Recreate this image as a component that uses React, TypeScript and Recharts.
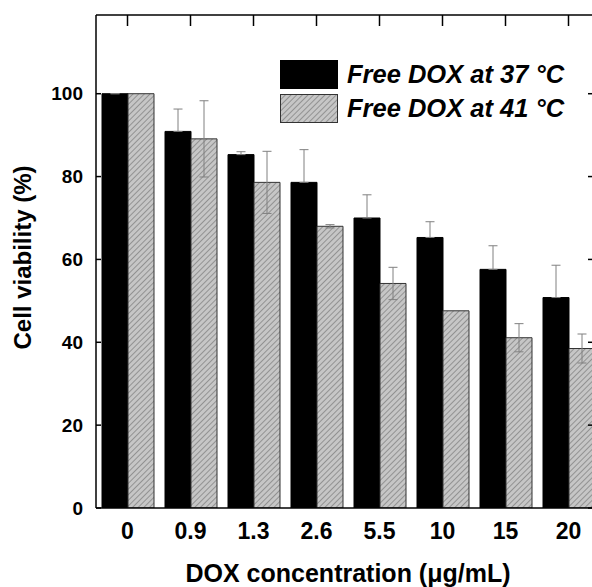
import React from 'react';
import { BarChart, Bar, XAxis, YAxis, ErrorBar, Legend } from 'recharts';

const concentrations = ['0', '0.9', '1.3', '2.6', '5.5', '10', '15', '20'];
const viability37 = [100, 90.9, 85.3, 78.6, 70.0, 65.3, 57.6, 50.8];
const error37 = [0, 5.4, 0.7, 7.9, 5.6, 3.8, 5.7, 7.8];
const viability41 = [100, 89.1, 78.6, 68.0, 54.2, 47.6, 41.1, 38.5];
const error41 = [0, 9.2, 7.5, 0.4, 3.9, 0, 3.4, 3.5];
const yTicks = [0, 20, 40, 60, 80, 100];
const seriesNames = ['Free DOX at 37 °C', 'Free DOX at 41 °C'];

const data = concentrations.map((c, i) => ({
  conc: c,
  v37: viability37[i],
  e37: [0, error37[i]],
  v41: viability41[i],
  e41: error41[i],
}));

const FONT = "'Liberation Sans', Arial, Helvetica, sans-serif";

const HatchDef = ({ id }: { id: string }) => (
  <pattern id={id} patternUnits="userSpaceOnUse" width="4" height="4" patternTransform="rotate(45)">
    <rect x="0" y="0" width="4" height="4" fill="#c6c6c6" />
    <line x1="0" y1="0" x2="0" y2="4" stroke="#7c7c7c" strokeWidth="1.4" />
  </pattern>
);

const NoLabel = () => <g />;

const LegendBox = () => (
  <svg width={300} height={64} style={{ display: 'block', overflow: 'visible' }}>
    <defs>
      <HatchDef id="hatchLegend" />
    </defs>
    <rect x={0.5} y={0.5} width={57} height={28} fill="#000" stroke="#000" />
    <rect x={0.5} y={34.5} width={57} height={28} fill="url(#hatchLegend)" stroke="#333" />
    <text x={67} y={23} fontFamily={FONT} fontSize={25.5} fontWeight="bold" fontStyle="italic" fill="#000">
      {seriesNames[0]}
    </text>
    <text x={67} y={57} fontFamily={FONT} fontSize={25.5} fontWeight="bold" fontStyle="italic" fill="#000">
      {seriesNames[1]}
    </text>
  </svg>
);

const YTitle = (props: any) => {
  const vb = props.viewBox || { x: 0, y: 0, width: 0, height: 0 };
  const cx = vb.x + 31;
  const cy = vb.y + vb.height / 2 - 4;
  return (
    <text
      transform={`translate(${cx}, ${cy}) rotate(-90)`}
      textAnchor="middle"
      fontFamily={FONT}
      fontSize={24}
      fontWeight="bold"
      fill="#000"
    >
      Cell viability (%)
    </text>
  );
};

export default function App() {
  const axisStroke = { stroke: '#000', strokeWidth: 1.5 };
  return (
    <div
      style={{
        position: 'absolute',
        left: 0,
        top: 0,
        width: 592,
        height: 587,
        overflow: 'hidden',
        background: '#fff',
      }}
    >
      <BarChart
        width={602}
        height={587}
        data={data}
        margin={{ top: 14, right: 1, bottom: 0, left: 0 }}
        barGap={0}
      >
        <defs>
          <HatchDef id="hatchBar" />
        </defs>
        <XAxis
          dataKey="conc"
          height={79}
          interval={0}
          axisLine={axisStroke}
          tickLine={false}
          tickSize={0}
          tickMargin={15}
          tick={{ fontSize: 23, fontWeight: 'bold', fill: '#000', fontFamily: FONT }}
          label={{
            value: 'DOX concentration (μg/mL)',
            position: 'insideBottom',
            offset: 5,
            style: { fontSize: 25, fontWeight: 'bold', fill: '#000', fontFamily: FONT },
          }}
        />
        <XAxis
          xAxisId="top"
          orientation="top"
          dataKey="conc"
          height={1}
          interval={0}
          tick={NoLabel}
          tickSize={-11}
          axisLine={axisStroke}
          tickLine={axisStroke}
        />
        <YAxis
          width={96}
          domain={[0, 119]}
          ticks={yTicks}
          interval={0}
          allowDataOverflow
          tickSize={-5}
          tickMargin={18}
          axisLine={axisStroke}
          tickLine={axisStroke}
          tick={{ fontSize: 19, fontWeight: 'bold', fill: '#000', fontFamily: FONT }}
          label={{ content: YTitle }}
        />
        <YAxis
          yAxisId="right"
          orientation="right"
          width={1}
          domain={[0, 119]}
          ticks={yTicks}
          interval={0}
          allowDataOverflow
          tick={NoLabel}
          tickSize={-12}
          axisLine={axisStroke}
          tickLine={axisStroke}
        />
        <Legend
          layout="horizontal"
          verticalAlign="middle"
          align="center"
          wrapperStyle={{ position: 'absolute', top: 60, left: 280, width: 300, height: 64 }}
          content={() => <LegendBox />}
        />
        <Bar
          dataKey="v37"
          name={seriesNames[0]}
          fill="#000"
          stroke="#000"
          strokeWidth={1}
          barSize={26}
          isAnimationActive={false}
        >
          <ErrorBar dataKey="e37" width={4.5} stroke="#808080" strokeWidth={1} />
        </Bar>
        <Bar
          dataKey="v41"
          name={seriesNames[1]}
          fill="url(#hatchBar)"
          stroke="#333"
          strokeWidth={1}
          barSize={26}
          isAnimationActive={false}
        >
          <ErrorBar dataKey="e41" width={4.5} stroke="#808080" strokeWidth={1} />
        </Bar>
      </BarChart>
    </div>
  );
}
